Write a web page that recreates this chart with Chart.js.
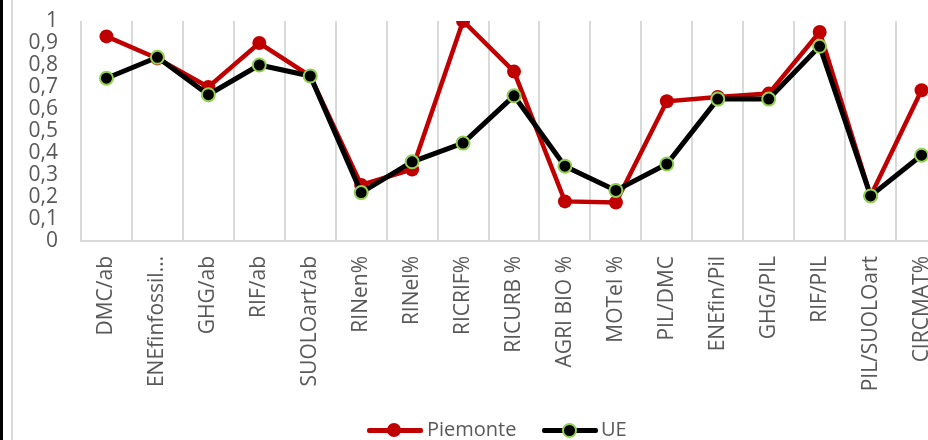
<!DOCTYPE html>
<html>
<head>
<meta charset="utf-8">
<script src="https://cdn.jsdelivr.net/npm/chart.js@4/dist/chart.umd.min.js"></script>
<style>
  html, body { margin:0; padding:0; background:#fff; overflow:hidden; }
  #wrap { position:absolute; left:0; top:0; width:962px; height:440px; }
  #bordo { position:absolute; left:0; top:0; width:3px; height:440px; background:#000; }
  #bordo2 { position:absolute; left:11px; top:0; width:2px; height:440px; background:#d9d9d9; }
  .leg { position:absolute; top:418px; height:24px; font-family:'Open Sans', sans-serif; font-size:20px; color:#595959; }
  .leg .ln { position:absolute; top:10px; height:5px; width:56px; border-radius:2px; }
  .leg .pt { position:absolute; border-radius:50%; }
  .leg .tx { position:absolute; top:-3px; white-space:nowrap; }
</style>
</head>
<body>
<div id="wrap"><canvas id="grafico" width="962" height="440"></canvas></div>
<div id="bordo"></div>
<div id="bordo2"></div>
<div class="leg" style="left:367px">
  <div class="ln" style="left:0;background:#c00000"></div>
  <div class="pt" style="left:20px;top:5px;width:14px;height:14px;background:#c00000"></div>
  <div class="tx" style="left:60px">Piemonte</div>
</div>
<div class="leg" style="left:542px">
  <div class="ln" style="left:0;background:#000"></div>
  <div class="pt" style="left:20px;top:5px;width:11px;height:11px;background:#000;border:2px solid #92d050"></div>
  <div class="tx" style="left:59px">UE</div>
</div>
<script>
var categorie = ["DMC/ab","ENEfinfossil…","GHG/ab","RIF/ab","SUOLOart/ab","RINen%","RINel%","RICRIF%","RICURB %","AGRI BIO %","MOTel %","PIL/DMC","ENEfin/Pil","GHG/PIL","RIF/PIL","PIL/SUOLOart","CIRCMAT%"];
var piemonte = [0.93,0.83,0.70,0.90,0.75,0.255,0.325,1.0,0.77,0.18,0.175,0.635,0.655,0.67,0.95,0.205,0.685];
var ue = [0.74,0.835,0.665,0.80,0.75,0.22,0.36,0.445,0.66,0.34,0.23,0.35,0.645,0.645,0.885,0.205,0.39];
var yTicks = [0,0.1,0.2,0.3,0.4,0.5,0.6,0.7,0.8,0.9,1];

function virgola(v){
	return String(Math.round(v*10)/10).replace('.', ',');
}

var datos = {
	type: "line",
	data: {
		labels: categorie,
		datasets: [{
			label: "Piemonte",
			data: piemonte,
			borderColor: "#c00000",
			backgroundColor: "#c00000",
			borderWidth: 4.5,
			pointRadius: 7,
			pointBorderWidth: 0,
			pointBackgroundColor: "#c00000",
			tension: 0,
			order: 2
		},{
			label: "UE",
			data: ue,
			borderColor: "#000000",
			backgroundColor: "#000000",
			borderWidth: 5,
			pointRadius: 6.5,
			pointBorderWidth: 2,
			pointBorderColor: "#92d050",
			pointBackgroundColor: "#000000",
			tension: 0,
			order: 1
		}]
	},
	options: {
		responsive: false,
		animation: false,
		layout: { padding: { top: 21, left: 14, right: 0, bottom: 0 } },
		plugins: { legend: { display: false }, tooltip: { enabled: false } },
		scales: {
			x: {
				offset: true,
				grid: { offset: true, color: "#d9d9d9", lineWidth: 2, drawTicks: false },
				border: { color: "#d9d9d9", width: 2 },
				ticks: {
					minRotation: 90, maxRotation: 90, autoSkip: false, padding: 15,
					color: "#595959", font: { family: "'Open Sans', sans-serif", size: 21 }
				},
				afterFit: function(s){ s.height = 199; }
			},
			y: {
				min: 0, max: 1,
				grid: { display: false, drawTicks: false },
				border: { display: false },
				afterBuildTicks: function(s){ s.ticks = yTicks.map(function(v){ return {value: v}; }); },
				ticks: {
					autoSkip: false, padding: 23, color: "#595959",
					font: { family: "'Open Sans', sans-serif", size: 21 },
					callback: function(v){ return virgola(v); }
				},
				afterFit: function(s){
					s.width = 67;
					// il padding delle etichette non deve spostare l'area del grafico
					s.paddingTop = 0;
					s.paddingBottom = 0;
				}
			}
		}
	}
};

var canvas = document.getElementById('grafico').getContext('2d');
window.linea = new Chart(canvas, datos);
</script>
</body>
</html>
